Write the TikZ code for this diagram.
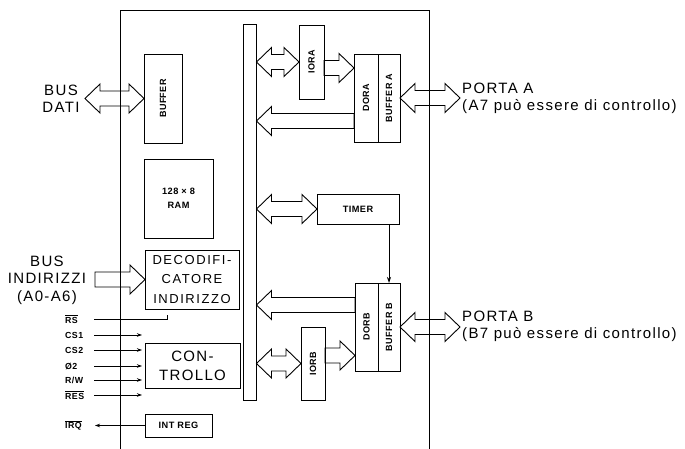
\documentclass[tikz,border=0pt]{standalone}
\usepackage{fontspec}
\setmainfont{Liberation Sans}
\newfontfamily\lblfont[LetterSpace=9]{Liberation Sans}
\newfontfamily\decfont[LetterSpace=12]{Liberation Sans}
\newfontfamily\tagfont[LetterSpace=5]{Liberation Sans}
\usepackage{graphicx}
\usepackage{tikz}
\usetikzlibrary{positioning, arrows.meta, calc}

\tikzset{
  box/.style={draw, line width=0.9pt, inner sep=0pt, outer sep=0pt},
  tag/.style={font=\tagfont\bfseries\fontsize{9.2}{10.5}\selectfont},
  lbl/.style={font=\lblfont\fontsize{15}{17.5}\selectfont, inner sep=0pt},
  sig/.style={font=\tagfont\bfseries\fontsize{8.8}{10}\selectfont, anchor=west, inner sep=0pt},
  hollow/.style={draw, line width=0.9pt, line join=miter},
  wire/.style={line width=0.8pt},
  sigarrow/.style={wire, -{Stealth[length=5pt, width=3.5pt]}},
}
\newcommand{\ovl}[1]{$\overline{\hbox{#1}}$}
\newcommand{\vtag}[1]{\rotatebox{90}{\tagfont\bfseries\fontsize{9}{10}\selectfont #1}}
% hollow bus arrow with two heads, left end to right end
\newcommand{\dblarr}[2]{%
  \draw[hollow] let \p1=(#1), \p2=(#2), \p3=($(#1)!15pt!(#2)$), \p4=($(#2)!15pt!(#1)$) in
    (\x1,\y1) -- (\x3,\y1+14.5pt) -- (\x3,\y1+7.5pt) -- (\x4,\y1+7.5pt) -- (\x4,\y1+14.5pt)
    -- (\x2,\y1) -- (\x4,\y1-14.5pt) -- (\x4,\y1-7.5pt) -- (\x3,\y1-7.5pt) -- (\x3,\y1-14.5pt) -- cycle;}
% hollow bus arrow with one head, tail to tip
\newcommand{\sglarr}[2]{%
  \draw[hollow] let \p1=(#1), \p2=(#2), \p3=($(#2)!15pt!(#1)$) in
    (\x1,\y1+7.5pt) -- (\x3,\y1+7.5pt) -- (\x3,\y1+14.5pt) -- (\x2,\y1)
    -- (\x3,\y1-14.5pt) -- (\x3,\y1-7.5pt) -- (\x1,\y1-7.5pt) -- cycle;}

\begin{document}
\begin{tikzpicture}[x=1pt, y=-1pt]
  \useasboundingbox (0,0) rectangle (685,449);

  % chip outline
  \draw[line width=0.9pt] (120,449) -- (120,10) -- (429,10) -- (429,449);

  % left column
  \node[box, minimum width=38, minimum height=89] (buffer) at (163,98.5) {\vtag{BUFFER}};
  \node[box, tag, minimum width=69, minimum height=79, align=center] (ram) at (178.5,198.5) {128 × 8\\[3pt]RAM};
  \node[box, minimum width=94, minimum height=59, align=center, font=\decfont\fontsize{13}{19.5}\selectfont] (decod) at (192,279.5) {DECODIFI-\\CATORE\\INDIRIZZO};
  \node[box, minimum width=95, minimum height=45, align=center, font=\lblfont\fontsize{15}{19}\selectfont] (ctrl) at (192.5,365.5) {CON-\\TROLLO};
  \node[box, tag, minimum width=67, minimum height=23] (intreg) at (178.5,425.5) {INT REG};

  % internal bus
  \node[box, minimum width=13, minimum height=376] (bus) at (250,212) {};

  % port A side
  \node[box, minimum width=25, minimum height=74] (iora) at (311.5,62) {\vtag{IORA}};
  \node[box, minimum width=24, minimum height=88] (dora) at (366,98) {\vtag{DORA}};
  \node[box, minimum width=22, minimum height=88, right=0pt of dora] (bufa) {\vtag{BUFFER A}};

  % timer and port B side
  \node[box, tag, minimum width=82, minimum height=30] (timer) at (358,209) {TIMER};
  \node[box, minimum width=23, minimum height=88] (dorb) at (366.5,327) {\vtag{DORB}};
  \node[box, minimum width=22, minimum height=88, right=0pt of dorb] (bufb) {\vtag{BUFFER B}};
  \node[box, minimum width=24, minimum height=73] (iorb) at (313,363.5) {\vtag{IORB}};

  % outside labels
  \node[lbl, align=center] (busdati) at (61,99) {BUS\\DATI};
  \node[lbl, align=center] (busind) at (47,280) {BUS\\INDIRIZZI\\(A0-A6)};
  \node[lbl, align=left, anchor=west] (portA) at (462,98.5) {PORTA A\\(A7 può essere di controllo)};
  \node[lbl, align=left, anchor=west] (portB) at (462,326.5) {PORTA B\\(B7 può essere di controllo)};

  % arrow end points
  \coordinate (datain) at (85,98.5);
  \coordinate (addrin) at (95,279.5);
  \coordinate (pinA) at (460,98);
  \coordinate (pinB) at (460,327);
  \coordinate (ioraR) at ([yshift=-6pt]iora.east);
  \coordinate (doraL) at ([yshift=-23pt]dora.west);
  \coordinate (dorbL) at ([yshift=22pt]dorb.west);
  \coordinate (iorbR) at ([yshift=8pt]iorb.east);

  % hollow bus arrows
  \dblarr{datain}{buffer.west}
  \sglarr{addrin}{decod.west}
  \dblarr{bus.east |- iora.west}{iora.west}
  \sglarr{ioraR}{dora.west |- ioraR}
  \sglarr{doraL}{bus.east |- doraL}
  \dblarr{bufa.east}{pinA}
  \dblarr{bus.east |- timer.west}{timer.west}
  \sglarr{dorbL}{bus.east |- dorbL}
  \dblarr{bus.east |- iorb.west}{iorb.west}
  \sglarr{iorbR}{dorb.west |- iorbR}
  \dblarr{bufb.east}{pinB}
  \draw[wire, -{Stealth[length=6pt, width=4pt]}] (timer.south -| bufb.north) -- (bufb.north);

  % control lines
  \node[sig] (rs) at (65,319) {\ovl{RS}};
  \coordinate (rsA) at (94,319);
  \coordinate (rsB) at (167,319);
  \coordinate (rsC) at (167,315);
  \draw[wire] (rsA) -- (rsB) -- (rsC);
  \foreach \n/\y/\t in {cs1/335/CS1, cs2/350/CS2, phi/366/Ø2, rw/380/{R/W}, res/395/\ovl{RES}} {
    \node[sig] (l\n) at (65,\y) {\t};
    \coordinate (s\n) at (94,\y);
    \coordinate (e\n) at (142,\y);
    \draw[sigarrow] (s\n) -- (e\n);
  }
  \node[sig] (irq) at (65,425.5) {\ovl{IRQ}};
  \coordinate (irqend) at (95,425.5);
  \draw[sigarrow] (intreg.west) -- (irqend);
\end{tikzpicture}
\end{document}
